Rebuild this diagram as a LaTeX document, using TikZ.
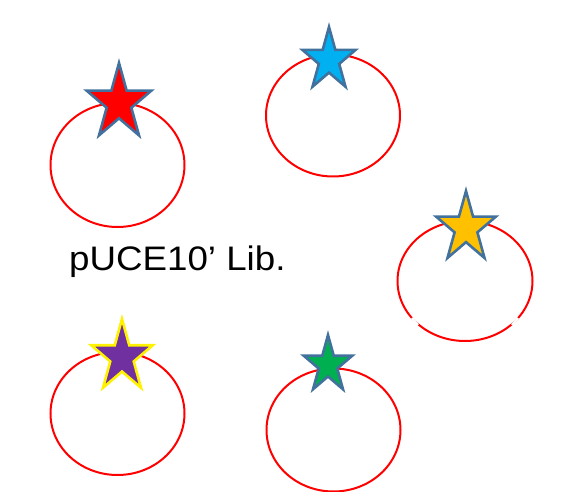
\documentclass[tikz,border=0pt]{standalone}
\usepackage{fontspec}
\setmainfont{Liberation Sans}
\definecolor{starline}{HTML}{41719C}
\definecolor{cyanfill}{HTML}{00B0F0}
\definecolor{goldfill}{HTML}{FFC000}
\definecolor{purplefill}{HTML}{7030A0}
\definecolor{greenfill}{HTML}{00B050}
\tikzset{
  star5/.pic={\path[pic actions] (270:1) -- (306:0.382) -- (342:1) -- (18:0.382) -- (54:1) -- (90:0.382) -- (126:1) -- (162:0.382) -- (198:1) -- (234:0.382) -- cycle;},
  ring/.style={draw=red, line width=2pt},
  starstyle/.style={draw=starline, line width=2.6pt, xscale=0.85},
  gap/.style={draw=white, line width=2.5pt}
}
\begin{document}
\begin{tikzpicture}[x=1pt,y=-1pt]
\useasboundingbox (0,0) rectangle (571,492);
% rings
\draw[ring] (117.5,165) ellipse [x radius=67, y radius=62];
\draw[ring] (333,115.5) ellipse [x radius=67, y radius=61];
\draw[ring] (465,281) ellipse [x radius=67.5, y radius=60];
\draw[ring] (117.5,413.5) ellipse [x radius=67, y radius=61.5];
\draw[ring] (333.5,430) ellipse [x radius=67, y radius=61.5];
% small gaps on the right ring
\draw[gap] (412,318) -- (418,325);
\draw[gap] (518,318) -- (512,325);
% stars
\pic[starstyle, fill=red, scale=40] at (119,103) {star5};
\pic[starstyle, fill=cyanfill, scale=33] at (329,60) {star5};
\pic[starstyle, fill=goldfill, scale=37] at (466,228) {star5};
\pic[starstyle, draw=yellow, fill=purplefill, scale=38] at (122,357) {star5};
\pic[starstyle, fill=greenfill, scale=30] at (328,365) {star5};
% label
\node[anchor=base west, inner sep=0pt, xscale=1.08, font=\fontsize{34}{40}\selectfont] (lib) at (69,271) {pUCE10’ Lib.};
\end{tikzpicture}
\end{document}
